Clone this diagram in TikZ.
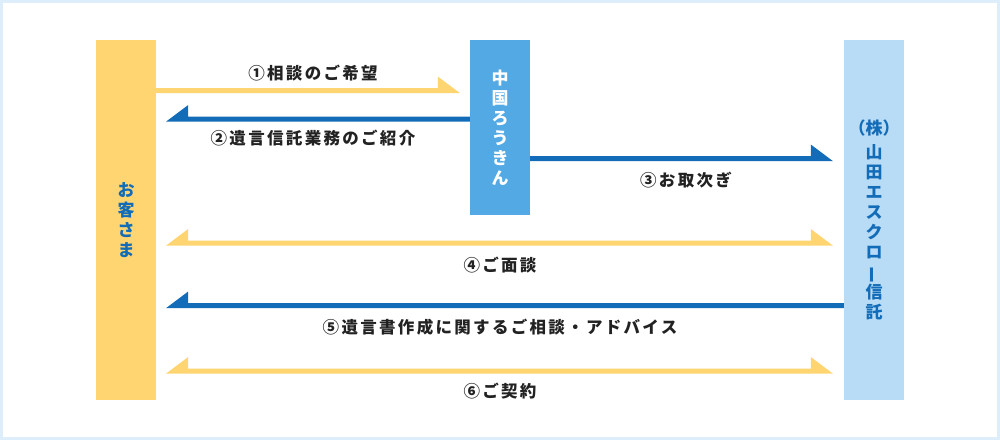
\documentclass[tikz,border=0pt]{standalone}
\usepackage{fontspec}
\setmainfont{Noto Sans CJK JP}
\usepackage{graphicx}
\usetikzlibrary{calc}
\definecolor{ylw}{HTML}{FFD572}
\definecolor{midblue}{HTML}{52A9E4}
\definecolor{lightblue}{HTML}{B8DCF6}
\definecolor{darkblue}{HTML}{136CB7}
\definecolor{frame}{HTML}{DDEEFA}
\definecolor{txt}{HTML}{222222}
% half arrow, tip to the right: #1 start, #2 tip, #3 colour
\newcommand\harR[3]{\fill[#3] ($(#1)+(0,-2.5)$) -- ($(#2)+(-22,-2.5)$) -- ($(#2)+(-22,-14)$) -- ($(#2)+(0,2.5)$) -- ($(#1)+(0,2.5)$) -- cycle;}
\newcommand\harL[3]{\fill[#3] ($(#1)+(0,-2.5)$) -- ($(#2)+(22,-2.5)$) -- ($(#2)+(22,-14)$) -- ($(#2)+(0,2.5)$) -- ($(#1)+(0,2.5)$) -- cycle;}
\newcommand\harLR[3]{\fill[#3] ($(#1)+(22,-2.5)$) -- ($(#1)+(22,-14)$) -- ($(#1)+(0,2.5)$) -- ($(#2)+(0,2.5)$) -- ($(#2)+(-22,-14)$) -- ($(#2)+(-22,-2.5)$) -- cycle;}
\begin{document}
\begin{tikzpicture}[x=1pt,y=-1pt,
  actor/.style={rectangle,inner sep=0pt,minimum width=60pt,align=center,
    font=\fontsize{17}{20}\selectfont\bfseries},
  lbl/.style={inner sep=0pt,text=txt,font=\fontsize{16.5}{20}\selectfont\bfseries\addfontfeature{LetterSpace=14}}]
\useasboundingbox (0,0) rectangle (1000,440);
\fill[frame] (0,0) rectangle (1000,440);
\fill[white] (3,3) rectangle (997,437);

\node[actor,fill=ylw,minimum height=360pt,text=darkblue] (cust) at (126,220) {お\\客\\さ\\ま};
\node[actor,fill=midblue,minimum height=175pt,text=white] (bank) at (500,127.5) {中\\国\\ろ\\う\\き\\ん};
\node[actor,fill=lightblue,minimum height=360pt,text=darkblue] (trust) at (874,220)
  {（株）\\[4pt]山\\田\\エ\\ス\\ク\\ロ\\\rotatebox[origin=c]{90}{ー}\\信\\託};

% connector end points
\coordinate (a1s) at (cust.east |- 0,90.5);  \coordinate (a1e) at ($(bank.west |- 0,90.5)+(-10,0)$);
\coordinate (a2s) at (bank.west |- 0,119);   \coordinate (a2e) at ($(cust.east |- 0,119)+(10,0)$);
\coordinate (a3s) at (bank.east |- 0,158.5); \coordinate (a3e) at ($(trust.west |- 0,158.5)+(-11,0)$);
\coordinate (a4s) at ($(cust.east |- 0,243)+(10,0)$);  \coordinate (a4e) at ($(trust.west |- 0,243)+(-11,0)$);
\coordinate (a5s) at (trust.west |- 0,305.5); \coordinate (a5e) at ($(cust.east |- 0,305.5)+(10,0)$);
\coordinate (a6s) at ($(cust.east |- 0,371)+(10,0)$);  \coordinate (a6e) at ($(trust.west |- 0,371)+(-11,0)$);

\harR{a1s}{a1e}{ylw}
\harL{a2s}{a2e}{darkblue}
\harR{a3s}{a3e}{darkblue}
\harLR{a4s}{a4e}{ylw}
\harL{a5s}{a5e}{darkblue}
\harLR{a6s}{a6e}{ylw}

\node[lbl] (l1) at (313,73) {①相談のご希望};
\node[lbl] (l2) at (313,138) {②遺言信託業務のご紹介};
\node[lbl] (l3) at (686,180) {③お取次ぎ};
\node[lbl] (l4) at (500,265) {④ご面談};
\node[lbl] (l5) at (500,327) {⑤遺言書作成に関するご相談・アドバイス};
\node[lbl] (l6) at (500,391) {⑥ご契約};
\end{tikzpicture}
\end{document}
